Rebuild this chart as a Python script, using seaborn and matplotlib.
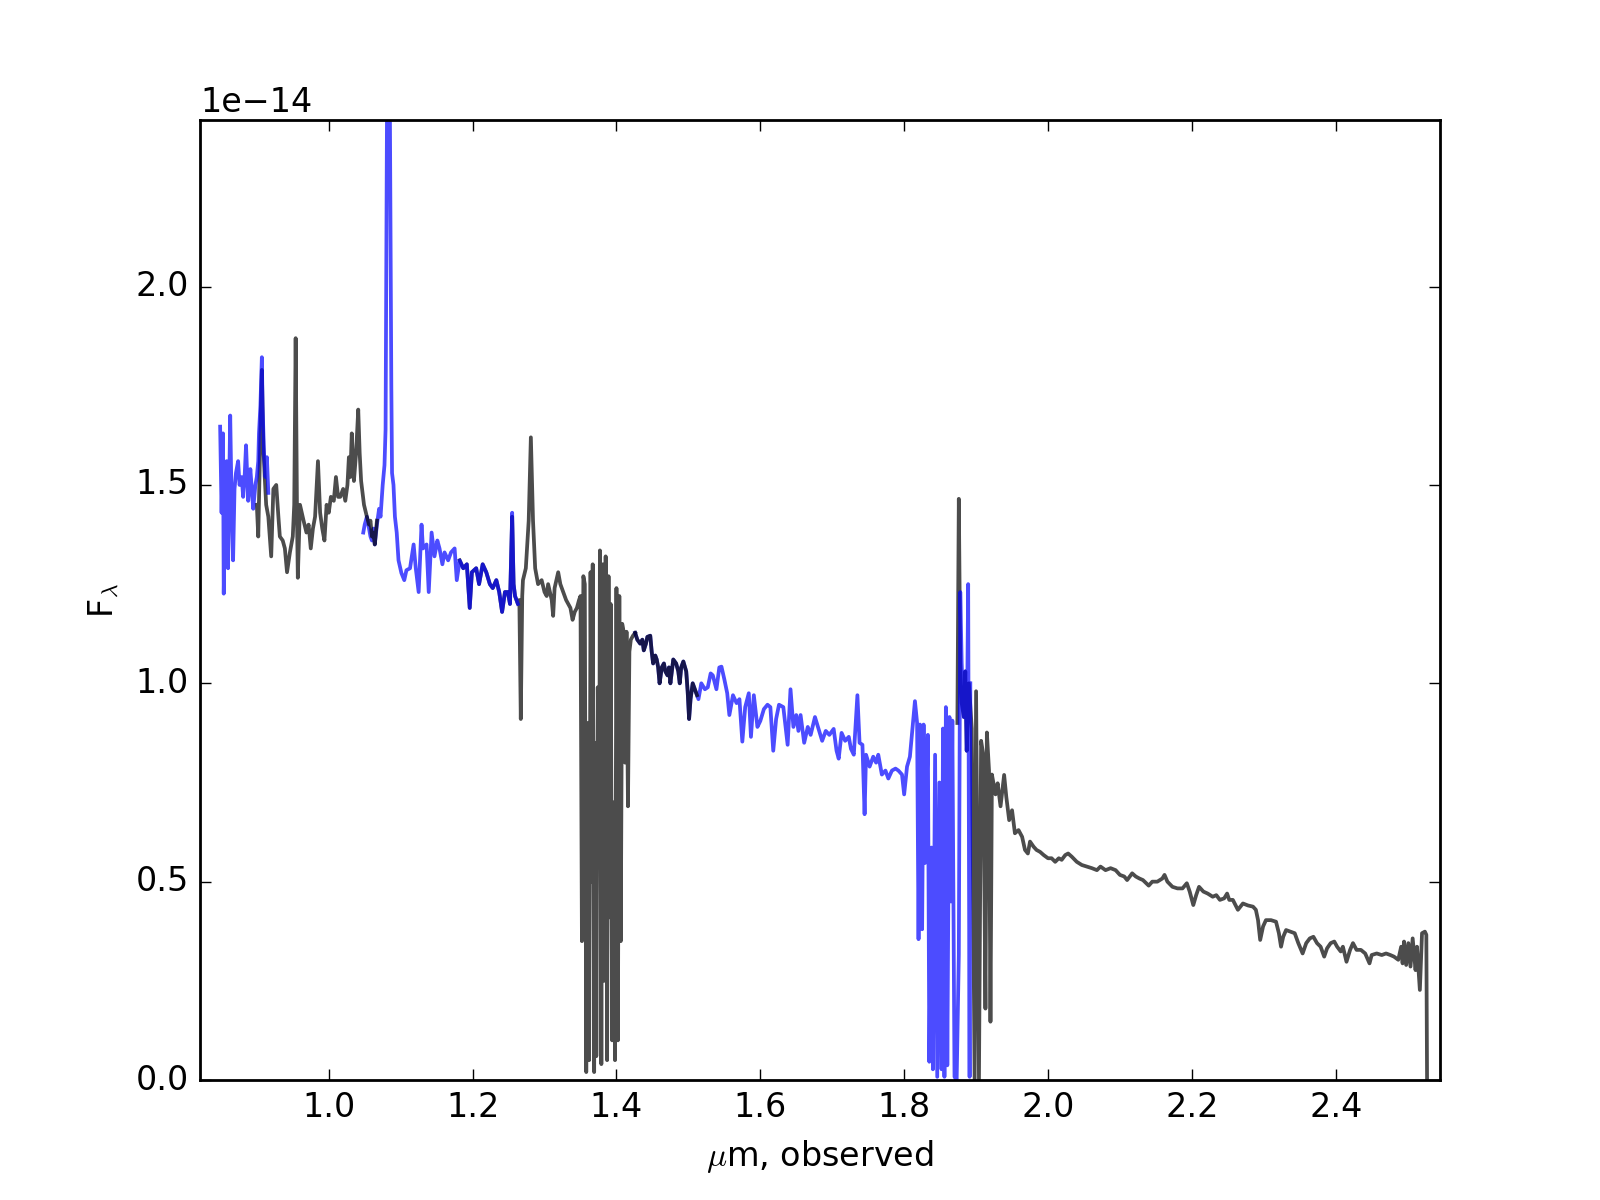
import matplotlib
matplotlib.use("Agg")
import matplotlib.pyplot as plt
import seaborn as sns
import pandas as pd
import numpy as np

plt.style.use("classic")

FLUX_SCALE = 1e-14  # fluxes below are in units of 1e-14

# ---------------- dark (grey) spectrum segments ----------------
gray_a_wave = [0.900, 0.902, 0.904, 0.906, 0.907, 0.909, 0.911, 0.913, 0.916, 0.920,
               0.923, 0.927, 0.930, 0.932, 0.936, 0.939, 0.942, 0.946, 0.950, 0.952,
               0.954, 0.956, 0.957, 0.960, 0.965, 0.969, 0.972, 0.975, 0.978, 0.981,
               0.985, 0.988, 0.991, 0.994, 0.997, 1.000, 1.003, 1.007, 1.010, 1.013,
               1.016, 1.020, 1.023, 1.026, 1.028, 1.030, 1.032, 1.035, 1.038, 1.041,
               1.043, 1.045, 1.049, 1.053, 1.056, 1.058, 1.060, 1.062, 1.064, 1.067]
gray_a_flux = [1.45, 1.37, 1.55, 1.72, 1.79, 1.60, 1.52, 1.45, 1.42, 1.32,
               1.49, 1.50, 1.42, 1.37, 1.36, 1.34, 1.28, 1.33, 1.37, 1.45,
               1.87, 1.40, 1.266, 1.45, 1.41, 1.38, 1.40, 1.34, 1.39, 1.42,
               1.56, 1.43, 1.39, 1.36, 1.45, 1.43, 1.47, 1.46, 1.52, 1.47,
               1.47, 1.49, 1.46, 1.50, 1.57, 1.52, 1.63, 1.51, 1.58, 1.69,
               1.58, 1.51, 1.45, 1.42, 1.40, 1.41, 1.37, 1.38, 1.35, 1.41]

gray_b_wave = [1.182, 1.187, 1.192, 1.196, 1.199, 1.205, 1.209, 1.214, 1.219, 1.224,
               1.228, 1.233, 1.237, 1.241, 1.245, 1.249, 1.252, 1.255, 1.257, 1.259,
               1.263, 1.265, 1.267, 1.269, 1.270, 1.274, 1.278, 1.281, 1.284, 1.287,
               1.291, 1.296, 1.300, 1.303, 1.305, 1.310, 1.312, 1.314, 1.319, 1.322,
               1.326, 1.330, 1.333, 1.336, 1.339, 1.342, 1.345, 1.348, 1.350, 1.352,
               1.354, 1.356, 1.358, 1.360, 1.362, 1.364, 1.366, 1.367, 1.369, 1.371,
               1.372, 1.374, 1.376, 1.377, 1.379, 1.381, 1.383, 1.385, 1.387, 1.389,
               1.391, 1.392, 1.394, 1.396, 1.398, 1.400, 1.402, 1.404, 1.406, 1.408,
               1.410, 1.412, 1.414, 1.416, 1.418, 1.420, 1.423, 1.426]
gray_b_flux = [1.31, 1.29, 1.30, 1.19, 1.28, 1.29, 1.25, 1.30, 1.28, 1.25,
               1.24, 1.26, 1.23, 1.18, 1.23, 1.23, 1.20, 1.42, 1.25, 1.22,
               1.20, 1.21, 0.91, 1.22, 1.26, 1.29, 1.41, 1.62, 1.41, 1.29,
               1.25, 1.26, 1.23, 1.22, 1.25, 1.21, 1.17, 1.24, 1.28, 1.25,
               1.23, 1.21, 1.20, 1.19, 1.16, 1.18, 1.19, 1.21, 1.22, 0.35,
               1.27, 1.25, 0.02, 0.90, 0.05, 1.28, 0.50, 1.30, 0.02, 0.85,
               0.06, 0.99, 0.57, 1.335, 0.04, 1.30, 0.25, 1.32, 0.05, 1.27,
               0.41, 1.20, 0.10, 0.70, 0.05, 1.24, 0.10, 1.22, 0.35, 1.15,
               1.13, 0.80, 1.13, 0.69, 1.08, 1.11, 1.12, 1.127]

# shared stretch where grey and blue coincide (1.43-1.51 um)
shared_c_wave = [1.426, 1.429, 1.433, 1.436, 1.438, 1.441, 1.443, 1.447, 1.449, 1.451,
                 1.454, 1.456, 1.458, 1.460, 1.463, 1.466, 1.468, 1.471, 1.473, 1.475,
                 1.477, 1.479, 1.483, 1.486, 1.488, 1.490, 1.493, 1.497, 1.499, 1.501,
                 1.503, 1.506, 1.510, 1.512]
shared_c_flux = [1.127, 1.11, 1.10, 1.11, 1.083, 1.10, 1.117, 1.12, 1.08, 1.05,
                 1.07, 1.06, 1.04, 1.00, 1.04, 1.05, 1.03, 1.02, 1.04, 1.00,
                 1.03, 1.06, 1.05, 1.03, 1.00, 1.04, 1.055, 1.03, 0.98, 0.91,
                 0.96, 1.00, 0.98, 0.97]

gray_d_wave = [1.874, 1.876, 1.878, 1.880, 1.883, 1.885, 1.887, 1.890, 1.894, 1.898,
               1.900, 1.904, 1.907, 1.910, 1.913, 1.915, 1.918, 1.920, 1.922, 1.927,
               1.930, 1.934, 1.939, 1.942, 1.946, 1.950, 1.954, 1.959, 1.964, 1.968,
               1.972, 1.975, 1.980, 1.984, 1.989, 1.994, 2.000, 2.005, 2.010, 2.015,
               2.019, 2.024, 2.028, 2.033, 2.040, 2.047, 2.054, 2.061, 2.068, 2.073,
               2.080, 2.087, 2.094, 2.100, 2.106, 2.110, 2.117, 2.122, 2.127, 2.132,
               2.140, 2.145, 2.152, 2.159, 2.162, 2.166, 2.173, 2.180, 2.187, 2.193,
               2.197, 2.202, 2.206, 2.210, 2.216, 2.222, 2.229, 2.234, 2.239, 2.245,
               2.249, 2.252, 2.257, 2.264, 2.271, 2.278, 2.285, 2.289, 2.292, 2.295,
               2.299, 2.303, 2.310, 2.317, 2.321, 2.324, 2.327, 2.331, 2.337, 2.343,
               2.348, 2.354, 2.359, 2.364, 2.369, 2.374, 2.379, 2.384, 2.388, 2.393,
               2.398, 2.402, 2.407, 2.410, 2.415, 2.420, 2.424, 2.429, 2.435, 2.441,
               2.447, 2.450, 2.457, 2.464, 2.470, 2.476, 2.481, 2.487, 2.491, 2.493,
               2.495, 2.498, 2.501, 2.504, 2.507, 2.511, 2.513, 2.517, 2.520, 2.524,
               2.526, 2.527]
gray_d_flux = [0.90, 1.465, 1.05, 0.95, 0.915, 1.03, 0.83, 1.00, 0.886, 0.0,
               0.98, 0.0, 0.855, 0.82, 0.18, 0.876, 0.78, 0.147, 0.77, 0.72,
               0.748, 0.69, 0.769, 0.714, 0.655, 0.68, 0.622, 0.63, 0.613, 0.58,
               0.571, 0.601, 0.588, 0.580, 0.575, 0.567, 0.559, 0.559, 0.55, 0.559,
               0.555, 0.567, 0.571, 0.563, 0.55, 0.542, 0.538, 0.534, 0.529, 0.538,
               0.529, 0.534, 0.529, 0.517, 0.513, 0.504, 0.521, 0.513, 0.508, 0.504,
               0.49, 0.50, 0.50, 0.508, 0.517, 0.50, 0.487, 0.483, 0.483, 0.496,
               0.475, 0.441, 0.466, 0.487, 0.475, 0.47, 0.462, 0.466, 0.454, 0.458,
               0.47, 0.454, 0.454, 0.429, 0.445, 0.44, 0.437, 0.429, 0.403, 0.353,
               0.387, 0.403, 0.403, 0.399, 0.370, 0.336, 0.361, 0.378, 0.374, 0.37,
               0.345, 0.319, 0.345, 0.357, 0.361, 0.345, 0.336, 0.311, 0.332, 0.345,
               0.349, 0.336, 0.324, 0.336, 0.298, 0.328, 0.345, 0.328, 0.328, 0.319,
               0.294, 0.315, 0.319, 0.315, 0.319, 0.315, 0.311, 0.303, 0.336, 0.294,
               0.349, 0.29, 0.345, 0.286, 0.357, 0.277, 0.336, 0.227, 0.37, 0.374,
               0.366, 0.0]

# ---------------- blue spectrum segments ----------------
blue_a_wave = [0.849, 0.851, 0.853, 0.854, 0.856, 0.858, 0.860, 0.862, 0.863, 0.865,
               0.867, 0.869, 0.871, 0.874, 0.876, 0.879, 0.881, 0.883, 0.885, 0.888,
               0.891, 0.893, 0.895, 0.898, 0.900, 0.902, 0.903, 0.905, 0.907, 0.908,
               0.910, 0.912, 0.914, 0.916]
blue_a_flux = [1.647, 1.43, 1.63, 1.226, 1.45, 1.56, 1.29, 1.55, 1.675, 1.45,
               1.31, 1.49, 1.53, 1.56, 1.50, 1.52, 1.47, 1.52, 1.60, 1.46,
               1.54, 1.49, 1.44, 1.50, 1.52, 1.56, 1.63, 1.70, 1.822, 1.70,
               1.58, 1.52, 1.57, 1.48]

blue_b_wave = [1.048, 1.050, 1.053, 1.056, 1.058, 1.060, 1.062, 1.064, 1.067, 1.070,
               1.072, 1.075, 1.0775, 1.079, 1.081, 1.083, 1.085, 1.087, 1.088, 1.090,
               1.092, 1.0945, 1.097, 1.101, 1.105, 1.108, 1.113, 1.118, 1.121, 1.125,
               1.129, 1.131, 1.136, 1.139, 1.143, 1.147, 1.151, 1.154, 1.158, 1.161,
               1.166, 1.170, 1.175, 1.178, 1.182, 1.187, 1.192, 1.196, 1.199, 1.205,
               1.209, 1.214, 1.219, 1.224, 1.228, 1.233, 1.237, 1.241, 1.245, 1.249,
               1.252, 1.255, 1.257, 1.259, 1.263]
blue_b_flux = [1.38, 1.40, 1.42, 1.39, 1.37, 1.36, 1.39, 1.35, 1.40, 1.44,
               1.42, 1.50, 1.55, 1.64, 2.45, 2.90, 2.45, 1.75, 1.53, 1.50,
               1.42, 1.38, 1.31, 1.278, 1.26, 1.285, 1.29, 1.35, 1.29, 1.23,
               1.40, 1.34, 1.35, 1.23, 1.38, 1.32, 1.36, 1.34, 1.30, 1.33,
               1.31, 1.33, 1.34, 1.26, 1.31, 1.29, 1.30, 1.19, 1.28, 1.29,
               1.25, 1.30, 1.28, 1.25, 1.24, 1.26, 1.23, 1.18, 1.23, 1.23,
               1.20, 1.43, 1.25, 1.22, 1.20]

blue_c_wave = [1.514, 1.518, 1.523, 1.527, 1.531, 1.534, 1.539, 1.543, 1.546, 1.550,
               1.554, 1.557, 1.562, 1.567, 1.571, 1.575, 1.579, 1.584, 1.587, 1.591,
               1.596, 1.600, 1.605, 1.610, 1.614, 1.618, 1.622, 1.626, 1.632, 1.638,
               1.642, 1.646, 1.650, 1.653, 1.656, 1.661, 1.666, 1.670, 1.676, 1.681,
               1.686, 1.691, 1.696, 1.702, 1.706, 1.709, 1.713, 1.718, 1.723, 1.726,
               1.730, 1.735, 1.738, 1.742, 1.745, 1.747, 1.752, 1.757, 1.761, 1.764,
               1.769, 1.774, 1.778, 1.783, 1.788, 1.792, 1.797, 1.800, 1.804, 1.808,
               1.812, 1.815, 1.818, 1.820, 1.822, 1.825, 1.827, 1.829, 1.833, 1.835,
               1.838, 1.840, 1.843, 1.846, 1.849, 1.852, 1.854, 1.856, 1.858, 1.860,
               1.863, 1.865, 1.867, 1.870, 1.873, 1.876, 1.878, 1.880, 1.883, 1.885,
               1.887, 1.889, 1.891, 1.892]
blue_c_flux = [0.96, 1.00, 0.985, 0.99, 1.025, 1.02, 0.985, 1.04, 1.042, 1.01,
               0.975, 0.92, 0.97, 0.95, 0.96, 0.853, 0.94, 0.975, 0.865, 0.97,
               0.89, 0.905, 0.935, 0.946, 0.94, 0.83, 0.91, 0.946, 0.94, 0.845,
               0.985, 0.89, 0.92, 0.88, 0.92, 0.85, 0.89, 0.87, 0.915, 0.885,
               0.855, 0.88, 0.87, 0.885, 0.83, 0.81, 0.875, 0.855, 0.865, 0.835,
               0.82, 0.97, 0.85, 0.845, 0.67, 0.82, 0.79, 0.815, 0.80, 0.82,
               0.77, 0.78, 0.76, 0.78, 0.785, 0.78, 0.77, 0.72, 0.79, 0.815,
               0.895, 0.955, 0.90, 0.355, 0.896, 0.38, 0.896, 0.547, 0.87, 0.046,
               0.586, 0.027, 0.82, 0.008, 0.75, 0.027, 0.886, 0.008, 0.94, 0.037,
               0.915, 0.45, 0.906, 0.008, 0.0, 0.316, 1.23, 1.05, 0.915, 1.03,
               0.83, 1.25, 0.008, 1.00]

GREY = "k"
BLUE = "b"

# drawing order controls which colour sits on top where they overlap
layers = [
    (gray_b_wave, gray_b_flux, GREY),
    (gray_d_wave, gray_d_flux, GREY),
    (blue_b_wave, blue_b_flux, BLUE),
    (shared_c_wave + blue_c_wave, shared_c_flux + blue_c_flux, BLUE),
    (shared_c_wave, shared_c_flux, GREY),
    (gray_a_wave, gray_a_flux, GREY),
    (blue_a_wave, blue_a_flux, BLUE),
]

fig, ax = plt.subplots(figsize=(8, 6), dpi=200)
fig.subplots_adjust(left=0.125, right=0.9, bottom=0.1, top=0.9)

for w, f, c in layers:
    df = pd.DataFrame({"wave": w, "flux": np.asarray(f) * FLUX_SCALE})
    sns.lineplot(data=df, x="wave", y="flux", color=c, alpha=0.7, lw=1.35,
                 sort=False, estimator=None, ax=ax)

ax.set_xlim(0.821, 2.545)
ax.set_ylim(0, 2.42e-14)
ax.set_xticks([1.0, 1.2, 1.4, 1.6, 1.8, 2.0, 2.2, 2.4])
ax.set_yticks(np.array([0.0, 0.5, 1.0, 1.5, 2.0]) * FLUX_SCALE)
ax.set_xlabel(r"$\mu$m, observed")
ax.set_ylabel(r"F$_\lambda$")

fig.savefig("out.png", dpi=200, facecolor="white")
